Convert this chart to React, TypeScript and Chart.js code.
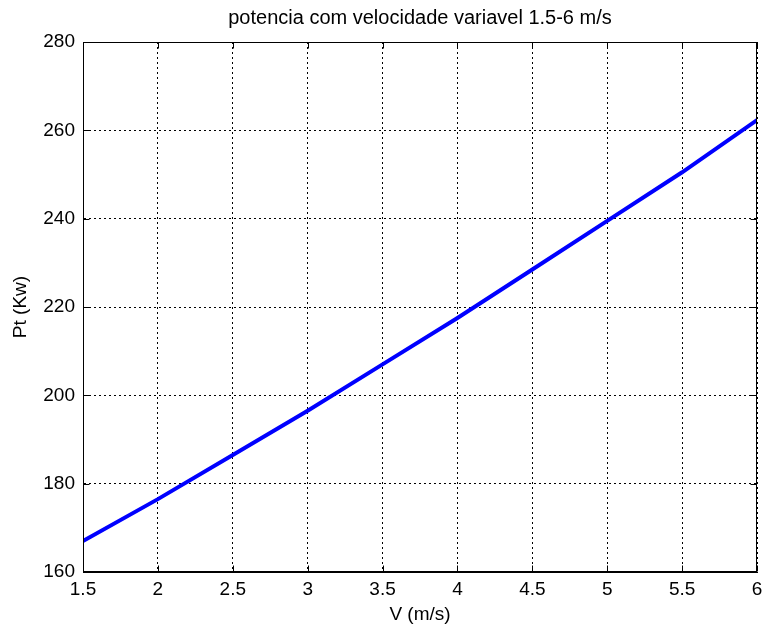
import React, { useEffect, useRef } from "react";
import { Chart, registerables } from "chart.js";

Chart.register(...registerables);

const titleText = "potencia com velocidade variavel 1.5-6 m/s";
const xLabel = "V (m/s)";
const yLabel = "Pt (Kw)";
const speeds = [1.5, 2, 2.5, 3, 3.5, 4, 4.5, 5, 5.5, 6];
const power = [167, 176.5, 186.5, 196.5, 207, 217.5, 228.5, 239.5, 250.5, 262.3];
const xMin = 1.5, xMax = 6, xStep = 0.5;
const yMin = 160, yMax = 280, yStep = 20;

const FONT = "'Liberation Sans', Arial, sans-serif";

const boxPlugin = {
  id: "matlabBox",
  afterDatasetsDraw(chart: any) {
    const { ctx, chartArea: a, scales } = chart;
    ctx.save();
    ctx.strokeStyle = "#000";
    ctx.lineWidth = 1;
    ctx.setLineDash([]);
    const L = Math.round(a.left) + 0.5, R = Math.round(a.right) - 0.5;
    const T = Math.round(a.top) + 0.5, B = Math.round(a.bottom) - 0.5;
    ctx.strokeRect(L, T, R - L, B - T);
    const tl = 6;
    ctx.beginPath();
    scales.x.ticks.forEach((t: any) => {
      const px = Math.round(scales.x.getPixelForValue(t.value)) + 0.5;
      ctx.moveTo(px, B); ctx.lineTo(px, B - tl);
      ctx.moveTo(px, T); ctx.lineTo(px, T + tl);
    });
    scales.y.ticks.forEach((t: any) => {
      const py = Math.round(scales.y.getPixelForValue(t.value)) + 0.5;
      ctx.moveTo(L, py); ctx.lineTo(L + tl, py);
      ctx.moveTo(R, py); ctx.lineTo(R - tl, py);
    });
    ctx.stroke();
    ctx.restore();
  },
};

export default function App() {
  const ref = useRef<HTMLCanvasElement>(null);
  useEffect(() => {
    const chart = new Chart(ref.current!, {
      type: "line",
      data: {
        datasets: [
          {
            data: speeds.map((v, i) => ({ x: v, y: power[i] })),
            borderColor: "#0000ff",
            borderWidth: 4,
            pointRadius: 0,
            fill: false,
            tension: 0,
          },
        ],
      },
      options: {
        animation: false,
        responsive: false,
        layout: { padding: { left: 0, right: 0, top: 0, bottom: 0 } },
        plugins: {
          legend: { display: false },
          tooltip: { enabled: false },
          title: {
            display: true,
            fullSize: false,
            text: titleText,
            color: "#000",
            font: { family: FONT, size: 20, weight: "normal" },
            padding: { top: 6, bottom: 12 },
          },
        },
        scales: {
          x: {
            type: "linear",
            min: xMin,
            max: xMax,
            afterFit: (s: any) => { s.height = 54; s.paddingRight = 5; },
            ticks: {
              stepSize: xStep,
              color: "#000",
              padding: 6,
              maxRotation: 0,
              font: { family: FONT, size: 19 },
              callback: (v: any) => String(v),
            },
            grid: { color: "#000", lineWidth: 1, drawTicks: false },
            border: { display: true, color: "#000", width: 1, dash: [2, 3] },
            title: {
              display: true,
              text: xLabel,
              color: "#000",
              font: { family: FONT, size: 19 },
              padding: { top: 0, bottom: 0 },
            },
          },
          y: {
            type: "linear",
            min: yMin,
            max: yMax,
            afterFit: (s: any) => { s.width = 83; },
            ticks: {
              stepSize: yStep,
              color: "#000",
              padding: 8,
              font: { family: FONT, size: 19 },
            },
            grid: { color: "#000", lineWidth: 1, drawTicks: false },
            border: { display: true, color: "#000", width: 1, dash: [2, 3] },
            title: {
              display: true,
              text: yLabel,
              color: "#000",
              font: { family: FONT, size: 19 },
              padding: { top: 9, bottom: 0 },
            },
          },
        },
      },
      plugins: [boxPlugin],
    });
    return () => chart.destroy();
  }, []);
  return (
    <div style={{ position: "fixed", left: 0, top: 0, width: 762, height: 626, background: "#fff" }}>
      <canvas ref={ref} width={762} height={626} style={{ display: "block" }} />
    </div>
  );
}
